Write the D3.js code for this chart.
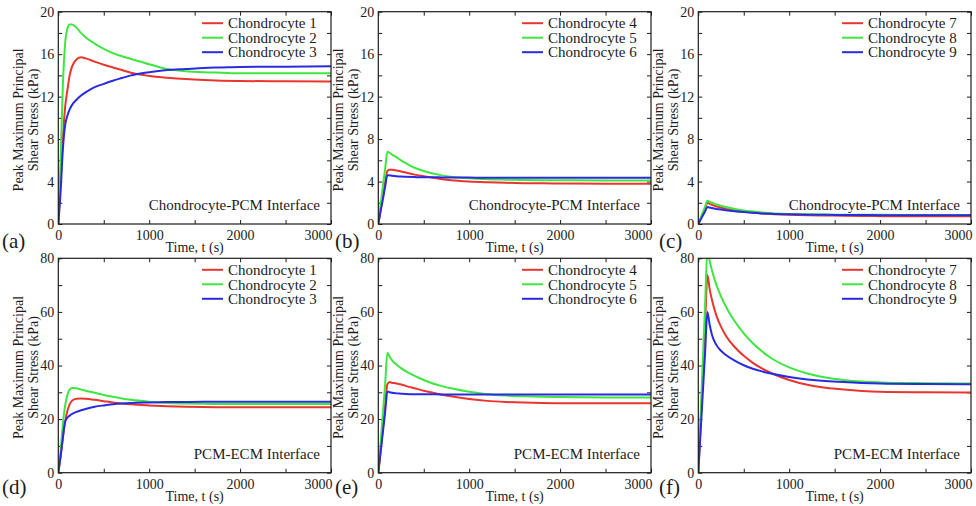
<!DOCTYPE html>
<html>
<head>
<meta charset="utf-8">
<script src="https://cdn.jsdelivr.net/npm/d3@7"></script>
<style>
  html, body { margin: 0; padding: 0; background: #fff; }
  svg { display: block; font-family: "Liberation Serif", "Times New Roman", serif; }
</style>
</head>
<body>
<svg id="fig" width="976" height="506"></svg>
<script>
// Sample times (s) shared by every curve
const times = [0, 25, 50, 75, 100, 125, 150, 200, 250, 300, 400, 500, 600, 700, 800, 1000, 1200, 1400, 1600, 1800, 2000, 2500, 3000];

// (a) Chondrocyte-PCM interface, chondrocytes 1-3 (kPa)
const pa1 = [0, 4, 8, 11, 12.6, 14, 14.8, 15.5, 15.7, 15.6, 15.3, 15.0, 14.75, 14.5, 14.25, 13.95, 13.78, 13.65, 13.56, 13.5, 13.47, 13.44, 13.42];
const pa2 = [0, 6, 13, 17, 18.4, 18.8, 18.8, 18.5, 18.0, 17.6, 17.0, 16.5, 16.1, 15.8, 15.55, 15.05, 14.6, 14.4, 14.3, 14.25, 14.2, 14.2, 14.2];
const pa3 = [0, 3, 7, 9.3, 10.2, 10.8, 11.2, 11.7, 12.1, 12.4, 12.9, 13.2, 13.5, 13.75, 14.0, 14.3, 14.5, 14.6, 14.7, 14.75, 14.8, 14.82, 14.85];
// (b) Chondrocyte-PCM interface, chondrocytes 4-6
const pb4 = [0, 1.3, 2.6, 3.9, 5.0, 5.1, 5.1, 5.05, 4.95, 4.85, 4.65, 4.5, 4.35, 4.22, 4.12, 4.0, 3.93, 3.88, 3.85, 3.83, 3.82, 3.8, 3.8];
const pb5 = [0, 1.8, 3.5, 5.2, 6.8, 6.7, 6.55, 6.3, 6.0, 5.75, 5.3, 5.0, 4.75, 4.58, 4.45, 4.3, 4.22, 4.18, 4.15, 4.13, 4.12, 4.1, 4.1];
const pb6 = [0, 1.2, 2.3, 3.5, 4.6, 4.58, 4.55, 4.5, 4.47, 4.45, 4.42, 4.4, 4.4, 4.39, 4.38, 4.37, 4.36, 4.36, 4.35, 4.35, 4.35, 4.35, 4.35];
// (c) Chondrocyte-PCM interface, chondrocytes 7-9
const pc7 = [0, 0.5, 1.0, 1.5, 2.0, 1.9, 1.8, 1.65, 1.55, 1.45, 1.3, 1.18, 1.08, 1.0, 0.95, 0.88, 0.83, 0.8, 0.77, 0.75, 0.74, 0.72, 0.72];
const pc8 = [0, 0.55, 1.1, 1.65, 2.2, 2.1, 2.0, 1.85, 1.72, 1.6, 1.42, 1.28, 1.17, 1.08, 1.02, 0.95, 0.91, 0.89, 0.87, 0.86, 0.86, 0.85, 0.85];
const pc9 = [0, 0.4, 0.8, 1.2, 1.6, 1.55, 1.5, 1.42, 1.36, 1.3, 1.2, 1.12, 1.05, 1.0, 0.96, 0.91, 0.88, 0.86, 0.85, 0.84, 0.83, 0.82, 0.82];
// (d) PCM-ECM interface, chondrocytes 1-3
const pd1 = [0, 6, 13, 19, 23, 25.5, 26.8, 27.6, 27.7, 27.6, 27.2, 26.7, 26.2, 25.8, 25.5, 25.1, 24.8, 24.6, 24.5, 24.45, 24.4, 24.4, 24.4];
const pd2 = [0, 8, 18, 25, 29, 31, 31.6, 31.5, 31.0, 30.6, 29.8, 29.0, 28.3, 27.7, 27.2, 26.5, 26.0, 25.8, 25.7, 25.6, 25.6, 25.6, 25.6];
const pd3 = [0, 6, 13, 19, 20.5, 21.3, 21.9, 22.7, 23.3, 23.8, 24.6, 25.1, 25.5, 25.8, 26.0, 26.2, 26.35, 26.4, 26.45, 26.5, 26.5, 26.5, 26.5];
// (e) PCM-ECM interface, chondrocytes 4-6
const pe4 = [0, 8, 16.5, 25, 33, 33.8, 33.6, 33.3, 32.9, 32.4, 31.5, 30.6, 29.8, 29.1, 28.5, 27.5, 26.8, 26.4, 26.15, 26.0, 25.95, 25.9, 25.9];
const pe5 = [0, 11, 22, 33, 44.8, 43.3, 42.0, 40.3, 39.0, 37.9, 36.1, 34.6, 33.3, 32.3, 31.5, 30.2, 29.3, 28.8, 28.5, 28.3, 28.2, 28.1, 28.1];
const pe6 = [0, 7.5, 15, 22.5, 30.3, 30.0, 29.8, 29.6, 29.5, 29.4, 29.3, 29.3, 29.25, 29.2, 29.2, 29.2, 29.2, 29.2, 29.2, 29.2, 29.2, 29.2, 29.2];
// (f) PCM-ECM interface, chondrocytes 7-9
const pf7 = [0, 18, 37, 55, 73.8, 68.5, 64.5, 58.5, 54.5, 51.3, 46.9, 43.6, 41.0, 38.9, 37.2, 34.6, 32.8, 31.7, 31.0, 30.5, 30.2, 30.0, 29.9];
const pf8 = [0, 21, 42, 63, 83, 79, 75.5, 70, 65.8, 62.2, 56.5, 52.0, 48.3, 45.3, 42.8, 39.3, 37.0, 35.5, 34.6, 34.0, 33.7, 33.4, 33.3];
const pf9 = [0, 15, 30, 45, 60, 55.2, 51.5, 47.6, 45.5, 44.0, 41.8, 40.1, 38.8, 37.8, 37.0, 35.7, 34.8, 34.2, 33.8, 33.5, 33.3, 33.1, 33.0];

const panelLetters = ["(a)", "(b)", "(c)", "(d)", "(e)", "(f)"];
const cellNames = [
  ["Chondrocyte 1", "Chondrocyte 2", "Chondrocyte 3"],
  ["Chondrocyte 4", "Chondrocyte 5", "Chondrocyte 6"],
  ["Chondrocyte 7", "Chondrocyte 8", "Chondrocyte 9"]
];
const interfaceNames = ["Chondrocyte-PCM Interface", "PCM-ECM Interface"];
const seriesColors = ["#e8362e", "#3ee640", "#2a2ae0"];
const xTickValues = [0, 500, 1000, 1500, 2000, 2500, 3000];
const xLabelled = [0, 1000, 2000, 3000];
const yMaxByRow = [20, 80];
const yTickStepByRow = [2, 10];
const yLabelStepByRow = [4, 20];
const xTitle = "Time, t (s)";
const yTitle = ["Peak Maximum Principal", "Shear Stress (kPa)"];

const panelSeries = [
  [pa1, pa2, pa3], [pb4, pb5, pb6], [pc7, pc8, pc9],
  [pd1, pd2, pd3], [pe4, pe5, pe6], [pf7, pf8, pf9]
];

// Layout of the 2 x 3 grid of axes
const colLeft = [58.3, 378.3, 698.3];
const axWidth = 272.7;
const rowTop = [11.7, 258.3];
const rowBottom = [224, 472.7];
const letterX = [2, 335, 659];
const letterY = [248, 494];

const svg = d3.select("#fig");
const ink = "#1c1c1c";

panelSeries.forEach((series, p) => {
  const row = Math.floor(p / 3), col = p % 3;
  const L = colLeft[col], R = L + axWidth, T = rowTop[row], B = rowBottom[row];
  const yMax = yMaxByRow[row];

  const x = d3.scaleLinear().domain([0, 3000]).range([L, R]);
  const y = d3.scaleLinear().domain([0, yMax]).range([B, T]);

  const g = svg.append("g");
  const clipId = "clip" + p;
  g.append("clipPath").attr("id", clipId)
    .append("rect").attr("x", L).attr("y", T).attr("width", R - L).attr("height", B - T);

  const yTicks = d3.range(0, yMax + 0.001, yTickStepByRow[row]);
  const yStep = yLabelStepByRow[row];

  // Axes with inward ticks on all four sides
  const bottomAxis = d3.axisBottom(x).tickValues(xTickValues).tickSizeInner(-4).tickSizeOuter(0).tickPadding(6)
    .tickFormat(v => xLabelled.includes(v) ? String(v) : "");
  const topAxis = d3.axisTop(x).tickValues(xTickValues).tickSizeInner(-4).tickSizeOuter(0).tickFormat("");
  const leftAxis = d3.axisLeft(y).tickValues(yTicks).tickSizeInner(-4).tickSizeOuter(0).tickPadding(4)
    .tickFormat(v => (Math.abs(v % yStep) < 1e-9) ? String(v) : "");
  const rightAxis = d3.axisRight(y).tickValues(yTicks).tickSizeInner(-4).tickSizeOuter(0).tickFormat("");

  const styleAxis = sel => {
    sel.select(".domain").remove();
    sel.selectAll(".tick line").attr("stroke", ink).attr("stroke-width", 1);
    sel.selectAll("text").attr("fill", ink).style("font-size", "14px")
      .style("font-family", '"Liberation Serif", "Times New Roman", serif');
  };

  const gb = g.append("g").attr("transform", `translate(0,${B})`).call(bottomAxis).call(styleAxis);
  gb.selectAll(".tick").filter(d => d === 3000).select("text").attr("text-anchor", "end").attr("x", 1);
  g.append("g").attr("transform", `translate(0,${T})`).call(topAxis).call(styleAxis);
  g.append("g").attr("transform", `translate(${L},0)`).call(leftAxis).call(styleAxis);
  g.append("g").attr("transform", `translate(${R},0)`).call(rightAxis).call(styleAxis);

  // Curves
  const line = d3.line().x((d, i) => x(times[i])).y(d => y(d)).curve(d3.curveMonotoneX);
  const curves = g.append("g").attr("clip-path", `url(#${clipId})`);
  series.forEach((vals, s) => {
    curves.append("path").attr("d", line(vals)).attr("fill", "none")
      .attr("stroke", seriesColors[s]).attr("stroke-width", 2).attr("stroke-linejoin", "round");
  });

  // Frame
  g.append("rect").attr("x", L).attr("y", T).attr("width", R - L).attr("height", B - T)
    .attr("fill", "none").attr("stroke", ink).attr("stroke-width", 1.2);

  // Legend
  const names = cellNames[col];
  names.forEach((nm, s) => {
    const cy = T + 11.5 + s * 14.5;
    g.append("line").attr("x1", R - 129).attr("x2", R - 108).attr("y1", cy).attr("y2", cy)
      .attr("stroke", seriesColors[s]).attr("stroke-width", 2);
    g.append("text").attr("x", R - 103).attr("y", cy).attr("dy", "0.35em")
      .attr("fill", ink).style("font-size", "15px").text(nm);
  });

  // Interface label
  g.append("text").attr("x", R - 11).attr("y", B - 19).attr("dy", "0.35em")
    .attr("text-anchor", "end").attr("fill", ink).style("font-size", "15px")
    .text(interfaceNames[row]);

  // Axis titles
  g.append("text").attr("x", (L + R) / 2).attr("y", B + 23).attr("dy", "0.35em")
    .attr("text-anchor", "middle").attr("fill", ink).style("font-size", "14px").text(xTitle);
  const cy = (T + B) / 2 + 2;
  yTitle.forEach((t, k) => {
    g.append("text").attr("transform", `translate(${L - 40 + k * 15},${cy}) rotate(-90)`)
      .attr("dy", "0.35em").attr("text-anchor", "middle").attr("fill", ink)
      .style("font-size", "14px").text(t);
  });

  // Panel letter
  g.append("text").attr("x", letterX[col]).attr("y", letterY[row])
    .attr("fill", ink).style("font-size", "21px").text(panelLetters[p]);
});
</script>
</body>
</html>
